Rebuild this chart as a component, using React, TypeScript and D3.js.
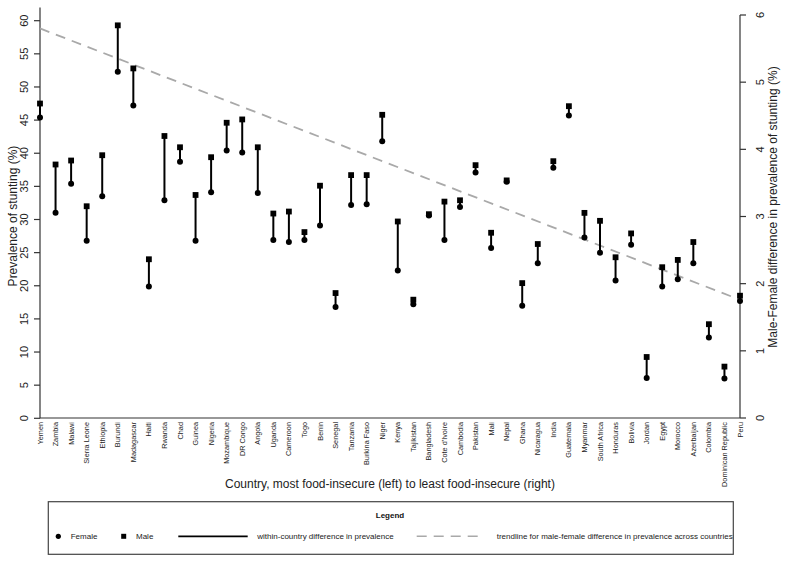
import React from "react";
import * as d3 from "d3";

const countries = [
  "Yemen", "Zambia", "Malawi", "Sierra Leone", "Ethiopia", "Burundi", "Madagascar", "Haiti",
  "Rwanda", "Chad", "Guinea", "Nigeria", "Mozambique", "DR Congo", "Angola", "Uganda",
  "Cameroon", "Togo", "Benin", "Senegal", "Tanzania", "Burkina Faso", "Niger", "Kenya",
  "Tajikistan", "Bangladesh", "Cote d'Ivoire", "Cambodia", "Pakistan", "Mali", "Nepal", "Ghana",
  "Nicaragua", "India", "Guatemala", "Myanmar", "South Africa", "Honduras", "Bolivia", "Jordan",
  "Egypt", "Morocco", "Azerbaijan", "Colombia", "Dominican Republic", "Peru",
];

const female = [
  45.4, 31.0, 35.4, 26.8, 33.5, 52.3, 47.2, 19.9,
  32.9, 38.7, 26.8, 34.1, 40.4, 40.1, 34.0, 26.9,
  26.6, 26.9, 29.1, 16.8, 32.2, 32.3, 41.8, 22.3,
  17.2, 30.6, 26.9, 31.9, 37.1, 25.7, 35.7, 17.0,
  23.4, 37.8, 45.7, 27.3, 25.0, 20.8, 26.2, 6.1,
  19.9, 21.0, 23.4, 12.2, 6.0, 17.7,
];

const male = [
  47.5, 38.3, 38.9, 32.0, 39.7, 59.3, 52.8, 24.0,
  42.6, 40.9, 33.7, 39.4, 44.6, 45.1, 40.9, 30.9,
  31.2, 28.1, 35.1, 18.9, 36.7, 36.7, 45.8, 29.7,
  17.9, 30.8, 32.7, 32.9, 38.2, 28.0, 35.9, 20.4,
  26.3, 38.8, 47.1, 31.0, 29.8, 24.3, 27.9, 9.25,
  22.8, 23.9, 26.6, 14.2, 7.8, 18.5,
];

// trendline endpoints (right axis units) at first and last country
const trend = [5.8, 1.76];

const leftTicks = [0, 5, 10, 15, 20, 25, 30, 35, 40, 45, 50, 55, 60];
const rightTicks = [0, 1, 2, 3, 4, 5, 6];

const FONT = "'Liberation Sans', Arial, Helvetica, sans-serif";

export default function App() {
  const x = d3.scalePoint<string>().domain(countries).range([40, 740]);
  const yL = d3.scaleLinear().domain([0, 60]).range([418.3, 20.7]);
  const yR = d3.scaleLinear().domain([0, 6]).range([418, 15]);

  const axisColor = "#333";

  const trendLine = d3
    .line<[number, number]>()
    .x((d) => d[0])
    .y((d) => d[1]);
  const trendPts: [number, number][] = [
    [x(countries[0])!, yR(trend[0])],
    [x(countries[countries.length - 1])!, yR(trend[1])],
  ];

  return (
    <svg
      width={790}
      height={562}
      style={{ position: "absolute", left: 0, top: 0, background: "#fff" }}
      fontFamily={FONT}
    >
      <rect x={0} y={0} width={790} height={562} fill="#fff" />

      {/* left axis */}
      <line x1={40} x2={40} y1={yL(0)} y2={yL(62)} stroke={axisColor} strokeWidth={1.2} />
      {leftTicks.map((t) => (
        <g key={"l" + t}>
          <line x1={34} x2={40} y1={yL(t)} y2={yL(t)} stroke={axisColor} strokeWidth={1.2} />
          <text
            transform={`translate(27.5,${yL(t)}) rotate(-90)`}
            textAnchor="middle"
            fontSize={11}
            fill="#222"
          >
            {t}
          </text>
        </g>
      ))}
      <text
        transform={`translate(17,216) rotate(-90)`}
        textAnchor="middle"
        fontSize={12}
        fill="#222"
      >
        Prevalence of stunting (%)
      </text>

      {/* right axis */}
      <line x1={740} x2={740} y1={yR(0)} y2={yR(6)} stroke={axisColor} strokeWidth={1.2} />
      {rightTicks.map((t) => (
        <g key={"r" + t}>
          <line x1={740} x2={746} y1={yR(t)} y2={yR(t)} stroke={axisColor} strokeWidth={1.2} />
          <text
            transform={`translate(764,${yR(t)}) rotate(-90)`}
            textAnchor="middle"
            fontSize={11}
            fill="#222"
          >
            {t}
          </text>
        </g>
      ))}
      <text
        transform={`translate(777,207) rotate(-90)`}
        textAnchor="middle"
        fontSize={12}
        fill="#222"
      >
        Male-Female difference in prevalence of stunting (%)
      </text>

      {/* bottom axis */}
      <line x1={40} x2={740} y1={418} y2={418} stroke={axisColor} strokeWidth={1.2} />
      {countries.map((c) => (
        <text
          key={"x" + c}
          transform={`translate(${x(c)! + 2.5},422) rotate(-90)`}
          textAnchor="end"
          fontSize={7.3}
          fill="#222"
        >
          {c}
        </text>
      ))}
      <text x={390} y={488} textAnchor="middle" fontSize={12} fill="#222">
        Country, most food-insecure (left) to least food-insecure (right)
      </text>

      {/* trendline */}
      <path
        d={trendLine(trendPts) || ""}
        stroke="#a9a9a9"
        strokeWidth={1.8}
        strokeDasharray="10 7"
        fill="none"
      />

      {/* dumbbells */}
      {countries.map((c, i) => {
        const cx = x(c)!;
        return (
          <g key={"d" + c}>
            <line
              x1={cx}
              x2={cx}
              y1={yL(female[i])}
              y2={yL(male[i])}
              stroke="#000"
              strokeWidth={2}
            />
            <circle cx={cx} cy={yL(female[i])} r={3} fill="#000" />
            <rect x={cx - 2.9} y={yL(male[i]) - 2.9} width={5.8} height={5.8} fill="#000" />
          </g>
        );
      })}

      {/* legend */}
      <rect x={48.3} y={501.7} width={685} height={52.6} fill="#fff" stroke="#444" strokeWidth={1.2} />
      <text x={390} y={518} textAnchor="middle" fontSize={8} fontWeight="bold" fill="#111">
        Legend
      </text>
      <circle cx={58.3} cy={536.3} r={2.6} fill="#000" />
      <text x={70.7} y={539} fontSize={8} fill="#222">
        Female
      </text>
      <rect x={121.2} y={533.8} width={5} height={5} fill="#000" />
      <text x={136} y={539} fontSize={8} fill="#222">
        Male
      </text>
      <line x1={178.3} x2={247.7} y1={536.3} y2={536.3} stroke="#000" strokeWidth={1.8} />
      <text x={257.3} y={539} fontSize={8} fill="#222">
        within-country difference in prevalence
      </text>
      <line
        x1={416.7}
        x2={481.7}
        y1={536.3}
        y2={536.3}
        stroke="#a9a9a9"
        strokeWidth={1.6}
        strokeDasharray="10 7"
      />
      <text x={496.7} y={539} fontSize={8} fill="#222">
        trendline for male-female difference in prevalence across countries
      </text>
    </svg>
  );
}
